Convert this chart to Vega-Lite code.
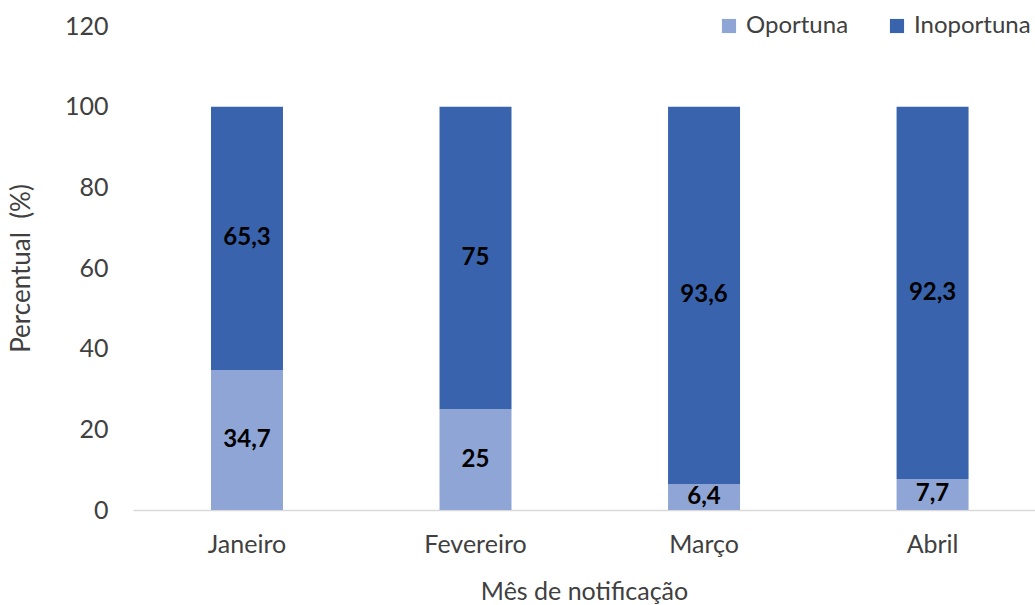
{
  "$schema": "https://vega.github.io/schema/vega-lite/v6.json",
  "autosize": {"type": "none"},
  "padding": {"left": 133, "top": 26, "right": 0, "bottom": 95},
  "width": 902,
  "height": 484,
  "background": "white",
  "config": {
    "font": "Lato",
    "view": {"stroke": null},
    "locale": {"number": {"decimal": ",", "thousands": ".", "grouping": [3], "currency": ["R$", ""]}}
  },
  "data": {
    "values": [
      {"mes": "Janeiro", "tipo": "Oportuna", "valor": 34.7},
      {"mes": "Janeiro", "tipo": "Inoportuna", "valor": 65.3},
      {"mes": "Fevereiro", "tipo": "Oportuna", "valor": 25},
      {"mes": "Fevereiro", "tipo": "Inoportuna", "valor": 75},
      {"mes": "Março", "tipo": "Oportuna", "valor": 6.4},
      {"mes": "Março", "tipo": "Inoportuna", "valor": 93.6},
      {"mes": "Abril", "tipo": "Oportuna", "valor": 7.7},
      {"mes": "Abril", "tipo": "Inoportuna", "valor": 92.3}
    ]
  },
  "transform": [
    {"stack": "valor", "groupby": ["mes"], "sort": [{"field": "tipo", "order": "descending"}], "as": ["y0", "y1"]},
    {"calculate": "(datum.y0 + datum.y1) / 2", "as": "meio"}
  ],
  "encoding": {
    "x": {
      "field": "mes", "type": "nominal",
      "sort": ["Janeiro", "Fevereiro", "Março", "Abril"],
      "scale": {"paddingInner": 0.685, "paddingOuter": 0.316, "align": 0.54},
      "axis": {
        "title": "Mês de notificação", "titleFont": "Lato", "titleFontSize": 25, "titleFontWeight": "normal",
        "titleColor": "#404040", "titlePadding": 22,
        "labelFontSize": 25, "labelColor": "#404040", "labelAngle": 0, "labelPadding": 22,
        "ticks": false, "domainColor": "#d9d9d9", "domainWidth": 1.5
      }
    }
  },
  "layer": [
    {
      "mark": {"type": "bar"},
      "encoding": {
        "y": {
          "field": "y0", "type": "quantitative",
          "scale": {"domain": [0, 120]},
          "axis": {
            "title": "Percentual\u00a0\u00a0(%)", "titleFontSize": 26, "titleFontWeight": "normal", "titleColor": "#404040",
            "titlePadding": 30,
            "values": [0, 20, 40, 60, 80, 100, 120],
            "labelFontSize": 25, "labelColor": "#404040", "labelPadding": 25,
            "ticks": false, "domain": false, "grid": false
          }
        },
        "y2": {"field": "y1"},
        "color": {
          "field": "tipo", "type": "nominal",
          "scale": {"domain": ["Oportuna", "Inoportuna"], "range": ["#8FA5D5", "#3A63AD"]},
          "legend": {
            "title": null, "orient": "none", "direction": "horizontal",
            "legendX": 584, "legendY": -12,
            "symbolType": "square", "symbolSize": 200, "symbolStrokeWidth": 0,
            "labelFontSize": 24, "labelColor": "#404040", "labelOffset": 5, "columnPadding": 36
          }
        }
      }
    },
    {
      "mark": {"type": "text", "fontSize": 24, "fontWeight": "bold", "color": "#000000"},
      "encoding": {
        "y": {"field": "meio", "type": "quantitative"},
        "text": {"field": "valor", "type": "quantitative", "format": "~g"}
      }
    }
  ]
}
